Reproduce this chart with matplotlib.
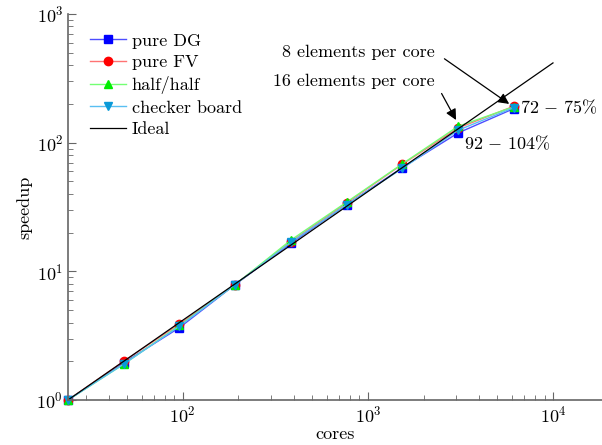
import matplotlib
matplotlib.use("Agg")
import matplotlib.pyplot as plt
import numpy as np

plt.rcParams['font.family'] = 'serif'
plt.rcParams['font.serif'] = ['cmr10']
plt.rcParams['mathtext.fontset'] = 'cm'
plt.rcParams['axes.formatter.use_mathtext'] = True
plt.rcParams['font.size'] = 13

cores = [24, 48, 96, 192, 384, 768, 1536, 3072, 6144]
pure_dg = [1, 1.95, 3.65, 7.9, 16.5, 33, 64, 119, 184]
pure_fv = [1, 2.0, 3.9, 7.9, 17.0, 34, 68, 130, 192]
half_half = [1, 1.9, 3.8, 7.9, 17.5, 34.5, 68.5, 134, 190]
checker = [1, 1.9, 3.75, 7.9, 16.8, 33, 63, 125, 187]
ideal_x = [24, 10000]
ideal_y = [1, 10000 / 24]

fig = plt.figure(figsize=(6.02, 4.45), dpi=100)
ax = fig.add_axes([68 / 602, 45 / 445, 1 - 68 / 602, (400 - 14) / 445])

ax.plot(cores, pure_dg, color=(0.3, 0.3, 1.0), lw=1, marker='s', ms=6,
        mfc='#0000ff', mec='#0000ff', label='pure DG', clip_on=False)
ax.plot(cores, pure_fv, color=(1.0, 0.45, 0.45), lw=1, marker='o', ms=6,
        mfc='#ff0000', mec='#ff0000', label='pure FV', clip_on=False)
ax.plot(cores, half_half, color=(0.45, 1.0, 0.45), lw=1, marker='^', ms=6,
        mfc='#00ee00', mec='#00ee00', label='half/half', clip_on=False)
ax.plot(cores, checker, color=(0.35, 0.75, 0.95), lw=1, marker='v', ms=6,
        mfc='#0a9ad8', mec='#0a9ad8', label='checker board', clip_on=False)
ax.plot(ideal_x, ideal_y, color='black', lw=0.9, label='Ideal')

ax.set_xscale('log')
ax.set_yscale('log')
ax.set_xlim(24, 18400)
ax.set_ylim(1, 1000)

for s in ['top', 'right']:
    ax.spines[s].set_visible(False)
for s in ['left', 'bottom']:
    ax.spines[s].set_color('#666666')
    ax.spines[s].set_linewidth(1.2)
ax.tick_params(which='major', direction='in', length=6, color='#666666', labelsize=13)
ax.tick_params(which='minor', direction='in', length=3.5, color='#666666')

ax.set_xlabel('cores', labelpad=1)
ax.set_ylabel('speedup', labelpad=3)

ax.annotate('8 elements per core', xy=(5800, 200), xytext=(2300, 506),
            ha='right', va='center',
            arrowprops=dict(arrowstyle='-|>', color='black', lw=0.9,
                            mutation_scale=16, shrinkA=6, shrinkB=0,
                            relpos=(1.0, 0.5)))
ax.annotate('16 elements per core', xy=(2995, 150), xytext=(2300, 301),
            ha='right', va='center',
            arrowprops=dict(arrowstyle='-|>', color='black', lw=0.9,
                            mutation_scale=16, shrinkA=6, shrinkB=0,
                            relpos=(1.0, 0.5)))
ax.text(6600, 188, r'$72\,-\,75\%$', ha='left', va='center', fontsize=13)
ax.text(3300, 99, r'$92\,-\,104\%$', ha='left', va='center', fontsize=13)

ax.legend(loc='upper left', bbox_to_anchor=(90 / 602, 1 - 33 / 445),
          bbox_transform=fig.transFigure, frameon=False, borderpad=0,
          handlelength=2.0, handletextpad=0.3, labelspacing=0.33, fontsize=13,
          borderaxespad=0)

fig.savefig('out.png', dpi=100)
